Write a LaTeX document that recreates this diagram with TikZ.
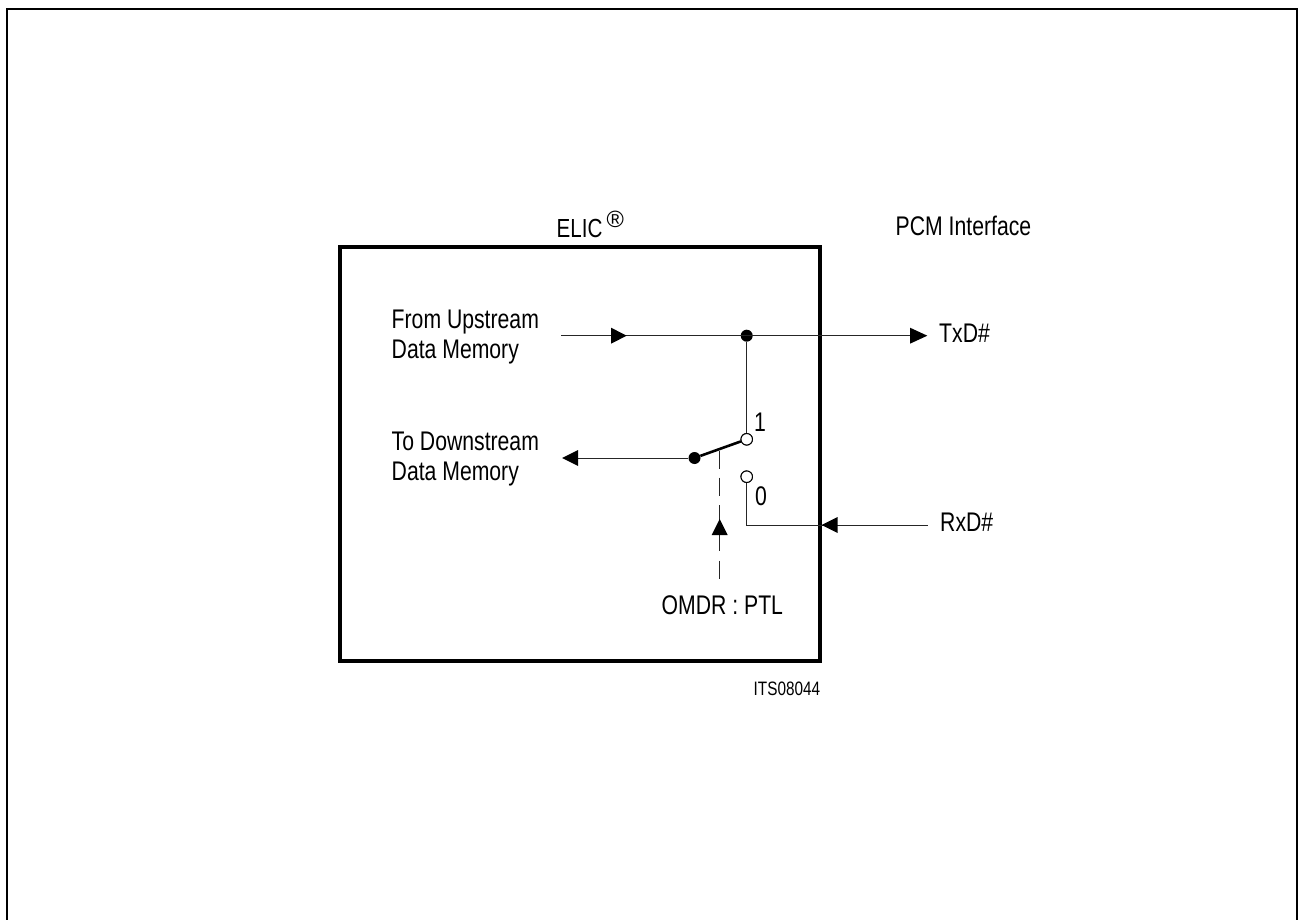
\documentclass[tikz,border=0pt]{standalone}
\usepackage{fontspec}
\usepackage{graphicx}
\setmainfont{Liberation Sans}
\newcommand{\tallA}[1]{\scalebox{1}[1.27]{#1}}
\tikzset{
  txt/.style={inner sep=0pt,font=\fontsize{21.2}{24}\selectfont,anchor=base west},
  wire/.style={line width=1pt,black!85},
  chipbox/.style={draw=black,line width=4pt,minimum width=480.5pt,minimum height=414pt,inner sep=0pt,outer sep=0pt,anchor=north west},
  frame/.style={draw=black,line width=2.5pt},
  solid dot/.style={circle,fill=black,draw=none,minimum size=12pt,inner sep=0pt},
  open dot/.style={circle,fill=white,draw=black,line width=1pt,minimum size=11.5pt,inner sep=0pt},
  tip/.style={fill=black,draw=none}
}
\begin{document}
\begin{tikzpicture}[x=1pt,y=-1pt]
\useasboundingbox (0,0) rectangle (1298,920);
\draw[frame] (7,925) -- (7,9) -- (1297.5,9) -- (1297.5,925);
\node[chipbox] (elic) at (339.5,247) {};
\coordinate (up) at (561,335.7);
\coordinate (txe) at (912,335.7);
\node[solid dot] (j) at (746.7,335.7) {};
\node[open dot] (one) at (746.7,439.3) {};
\node[open dot] (zero) at (746.7,476.7) {};
\node[solid dot] (pole) at (694.5,458) {};
\coordinate (dn) at (570,458);
\coordinate (rxs) at (928,525);
\coordinate (corner) at (746.7,525);
\coordinate (ctl) at (719.7,451);
\coordinate (ctle) at (719.7,579);
\draw[wire] (up) -- (txe);
\draw[wire] (j) -- (one);
\draw[wire] (pole) -- (dn);
\draw[wire] (zero) -- (corner) -- (rxs);
\draw[line width=2.6pt] (pole) -- (one);
\draw[wire] (ctl) -- ++(0,17.5) (719.7,477.5) -- ++(0,18) (719.7,505) -- ++(0,45.7) (719.7,560.7) -- (ctle);
\node[open dot] at (one) {};
\node[open dot] at (zero) {};
\fill[tip] (611,327.7) -- (626.7,335.7) -- (611,343.7) -- cycle;
\fill[tip] (910,327.7) -- (927.3,335.7) -- (910,343.7) -- cycle;
\fill[tip] (578,450) -- (562,458) -- (578,466) -- cycle;
\fill[tip] (837.7,517) -- (821.7,525) -- (837.7,533) -- cycle;
\fill[tip] (711.7,535) -- (719.7,519) -- (727.7,535) -- cycle;
\node[txt,font=\fontsize{20.6}{24}\selectfont] (elicl) at (556.5,237.7) {\tallA{ELIC}};
\node[inner sep=0pt,anchor=base west,font=\fontsize{23.5}{24}\selectfont] (reg) at (606.5,228) {®};
\node[txt] (pcm) at (895.5,236) {\tallA{PCM Interface}};
\node[txt] (f1) at (391.5,328.3) {\tallA{From Upstream}};
\node[txt] (f2) at (391.5,358) {\tallA{Data Memory}};
\node[txt] (t1) at (391.5,450) {\tallA{To Downstream}};
\node[txt] (t2) at (391.5,480) {\tallA{Data Memory}};
\node[txt] (tx) at (939,342.7) {\tallA{TxD\#}};
\node[txt] (rx) at (940,531.7) {\tallA{RxD\#}};
\node[txt] (n1) at (754,431.7) {\tallA{1}};
\node[txt] (n0) at (755,505.7) {\tallA{0}};
\node[txt] (om) at (661.5,614) {\tallA{OMDR : PTL}};
\node[inner sep=0pt,anchor=base west,font=\fontsize{15.3}{16}\selectfont] (its) at (753.5,695) {\tallA{ITS08044}};
\end{tikzpicture}
\end{document}
